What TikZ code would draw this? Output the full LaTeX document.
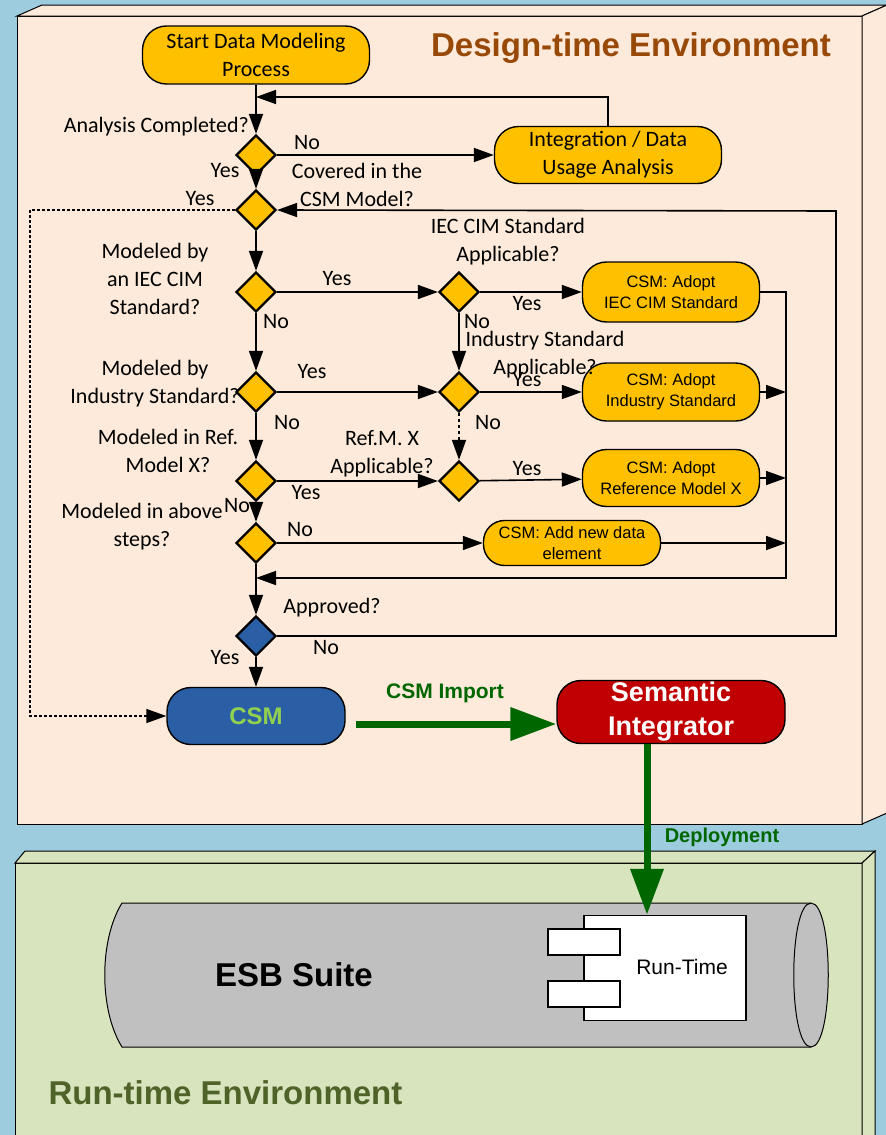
\documentclass[tikz,border=0pt]{standalone}
\usepackage{fontspec}
\setmainfont{Carlito}
\newfontfamily\arialfont{Liberation Sans}
\usetikzlibrary{shapes.geometric,arrows.meta}

\definecolor{skyblue}{HTML}{9DCCDE}
\definecolor{designbg}{HTML}{FDEADA}
\definecolor{runbg}{HTML}{D7E4BD}
\definecolor{stepyellow}{HTML}{FFC000}
\definecolor{csmblue}{HTML}{2A5FA5}
\definecolor{csmgreen}{HTML}{92D050}
\definecolor{semred}{HTML}{C00000}
\definecolor{arrowgreen}{HTML}{006600}
\definecolor{titlebrown}{HTML}{984807}
\definecolor{titleolive}{HTML}{4F6228}
\definecolor{esbgray}{HTML}{C0C0C0}

\tikzset{
  flow/.style={line width=1.6pt, -{Triangle[length=20pt,width=14pt]}},
  decision/.style={diamond, draw, line width=2.2pt, fill=stepyellow, minimum width=40pt, minimum height=40pt, inner sep=0pt},
  pill/.style={draw, line width=1.4pt, fill=stepyellow, rounded corners=24pt, align=center, inner sep=0pt},
  lbl/.style={font=\fontsize{22}{28}\selectfont, align=center, inner sep=0pt},
  adopt/.style={pill, minimum width=177pt, font=\arialfont\fontsize{16.5}{21}\selectfont},
  bigflow/.style={line width=7pt, draw=arrowgreen, -{Triangle[length=46pt,width=32pt]}},
  port/.style={draw, fill=white, line width=1.5pt, minimum width=72pt, minimum height=26pt, inner sep=0pt},
}

\begin{document}
\begin{tikzpicture}[x=1pt,y=-1pt]
	\useasboundingbox (0,0) rectangle (886,1135);
	\fill[skyblue] (0,0) rectangle (886,1135);
	% design-time box
	\draw[fill=designbg, line width=1pt] (17,16) rectangle (862,824);
	\draw[fill=designbg, line width=1pt] (17,16) -- (42,5) -- (887,5) -- (862,16) -- cycle;
	\draw[fill=designbg, line width=1pt] (862,16) -- (887,5) -- (887,813) -- (862,824) -- cycle;
	% run-time box
	\draw[fill=runbg, line width=1pt] (15,863) rectangle (862,1140);
	\draw[fill=runbg, line width=1pt] (15,863) -- (25,851) -- (875,851) -- (862,863) -- cycle;
	\draw[fill=runbg, line width=1pt] (862,863) -- (875,851) -- (875,1140) -- (862,1140) -- cycle;
	\node[font=\arialfont\bfseries\fontsize{33}{40}\selectfont, text=titlebrown] (designtitle) at (631,48) {Design-time Environment};
	\node[anchor=west, font=\arialfont\bfseries\fontsize{33}{40}\selectfont, text=titleolive] (runtitle) at (45,1093) {Run-time Environment};

	% steps
	\node[pill, minimum width=227pt, minimum height=58pt, font=\fontsize{22}{28}\selectfont] (start) at (256,55) {Start Data Modeling\\Process};
	\node[pill, minimum width=227pt, minimum height=57pt, font=\fontsize{22}{28}\selectfont] (integ) at (608,155) {Integration / Data\\Usage Analysis};
	\node[adopt, minimum height=60pt] (adoptiec) at (671,292) {CSM: Adopt\\IEC CIM Standard};
	\node[adopt, minimum height=58pt] (adoptind) at (671,392) {CSM: Adopt\\Industry Standard};
	\node[adopt, minimum height=57pt] (adoptref) at (671,478) {CSM: Adopt\\Reference Model X};
	\node[adopt, minimum height=45pt, rounded corners=21pt] (addnew) at (572,543) {CSM: Add new data\\element};

	% decisions
	\node[decision] (analysis) at (256,155) {};
	\node[decision] (covered) at (256,210) {};
	\node[decision] (iec) at (256,292) {};
	\node[decision] (iecok) at (459,292) {};
	\node[decision] (ind) at (256,392) {};
	\node[decision] (indok) at (459,392) {};
	\node[decision] (refx) at (256,481) {};
	\node[decision] (refxok) at (459,481) {};
	\node[decision] (above) at (256,543) {};
	\node[decision, fill=csmblue] (approved) at (256,636) {};

	% labels
	\node[lbl, anchor=east] (lanalysis) at (249,127) {Analysis Completed?};
	\node[lbl] (lno1) at (307,143) {No};
	\node[lbl] (lcovered) at (357,185) {Covered in the\\CSM Model?};
	\node[lbl] (lyes1) at (225,171) {Yes};
	\node[lbl] (lyes2) at (200,199) {Yes};
	\node[lbl] (liec) at (155,279) {Modeled by\\an IEC CIM\\Standard?};
	\node[lbl] (lyes3) at (337,279) {Yes};
	\node[lbl] (liecok) at (508,242) {IEC CIM Standard\\Applicable?};
	\node[lbl] (lyes4) at (527,304) {Yes};
	\node[lbl] (lno2) at (276,322) {No};
	\node[lbl] (lno3) at (477,322) {No};
	\node[lbl] (lindok) at (545,355) {Industry Standard\\Applicable?};
	\node[lbl] (lind) at (155,384) {Modeled by\\Industry Standard?};
	\node[lbl] (lyes5) at (312,372) {Yes};
	\node[lbl] (lyes6) at (527,380) {Yes};
	\node[lbl] (lno4) at (287,423) {No};
	\node[lbl] (lno5) at (488,423) {No};
	\node[lbl] (lrefx) at (168,451) {Modeled in Ref.\\Model X?};
	\node[lbl] (lrefxok) at (382,454) {Ref.M. X\\Applicable?};
	\node[lbl] (lyes7) at (306,493) {Yes};
	\node[lbl] (lyes8) at (527,469) {Yes};
	\node[lbl] (labove) at (142,527) {Modeled in above\\steps?};
	\node[lbl] (lno6) at (237,506) {No};
	\node[lbl] (lno7) at (300,530) {No};
	\node[lbl] (lapproved) at (332,608) {Approved?};
	\node[lbl] (lno8) at (326,648) {No};
	\node[lbl] (lyes9) at (225,658) {Yes};

	% csm and integrator
	\node[draw, line width=1.4pt, fill=csmblue, rounded corners=24pt, minimum width=178pt, minimum height=57pt, text=csmgreen, font=\arialfont\bfseries\fontsize{24}{28}\selectfont] (csm) at (256,716) {CSM};
	\node[draw, line width=1.4pt, fill=semred, rounded corners=24pt, minimum width=228pt, minimum height=63pt, inner sep=0pt, align=center, text=white, font=\arialfont\bfseries\fontsize{27}{34}\selectfont] (semint) at (671,712) {Semantic\\Integrator};
	\node[text=arrowgreen, font=\arialfont\bfseries\fontsize{21}{25}\selectfont] (limport) at (445,693) {CSM Import};
	\node[text=arrowgreen, font=\arialfont\bfseries\fontsize{20}{24}\selectfont] (ldeploy) at (722,837) {Deployment};

	% esb suite
	\draw[fill=esbgray, line width=1pt] (122,903) -- (811,903) .. controls (834,903) and (834,1047) .. (811,1047) -- (122,1047) .. controls (99,1010) and (99,940) .. (122,903) -- cycle;
	\draw[line width=1pt] (811,903) .. controls (788,903) and (788,1047) .. (811,1047);
	\node[font=\arialfont\bfseries\fontsize{33}{40}\selectfont] (esb) at (294,975) {ESB Suite};
	\node[draw, fill=white, line width=1.5pt, minimum width=162pt, minimum height=105pt, inner sep=0pt] (runtime) at (665,968) {};
	\node[port] (porta) at (584,942) {};
	\node[port] (portb) at (584,994) {};
	\node[font=\arialfont\fontsize{21}{25}\selectfont] (lruntime) at (682,967) {Run-Time};

	% connectors
	\coordinate (backin) at (256,97);
	\coordinate (dotleft) at (30,716);
	\coordinate (loopright) at (836,211);
	\coordinate (collecttop) at (786,292);
	\coordinate (collectbot) at (786,578);
	\coordinate (mergein) at (256,578);
	\draw[flow] (start) -- (analysis);
	\draw[flow] (integ.north) |- (backin);
	\draw[flow] (analysis) -- (integ);
	\draw[flow] (analysis) -- (covered);
	\draw[flow] (covered) -- (iec);
	\draw[flow] (iec) -- (ind);
	\draw[flow] (ind) -- (refx);
	\draw[flow] (refx) -- (above);
	\draw[flow] (above) -- (approved);
	\draw[flow] (approved) -- (csm);
	\draw[flow] (iec) -- (iecok);
	\draw[flow] (ind) -- (indok);
	\draw[flow] (refx) -- (refxok);
	\draw[flow] (iecok) -- (indok);
	\draw[flow, dash pattern=on 3pt off 3pt] (indok) -- (refxok);
	\draw[flow] (iecok) -- (adoptiec);
	\draw[flow] (indok) -- (adoptind);
	\draw[flow] (refxok) -- (adoptref);
	\draw[flow] (above) -- (addnew);
	\draw[flow] (adoptiec.east) -- (collecttop) -- (collectbot) -- (mergein);
	\draw[flow] (adoptind.east) -- (adoptind.east -| collecttop);
	\draw[flow] (adoptref.east) -- (adoptref.east -| collecttop);
	\draw[flow] (addnew.east) -- (addnew.east -| collecttop);
	\draw[flow] (approved.east) -| (loopright) -- (covered.east);
	\draw[flow, line width=1.4pt, dash pattern=on 2.5pt off 2.5pt] (covered.west) -| (dotleft) -- (csm.west);
	\draw[bigflow, shorten <=10pt] ([yshift=-8pt]csm.east) -- ([yshift=-12pt]semint.west);
	\draw[bigflow] ([xshift=-24pt]semint.south) -- ([xshift=-18pt]runtime.north);
\end{tikzpicture}
\end{document}
